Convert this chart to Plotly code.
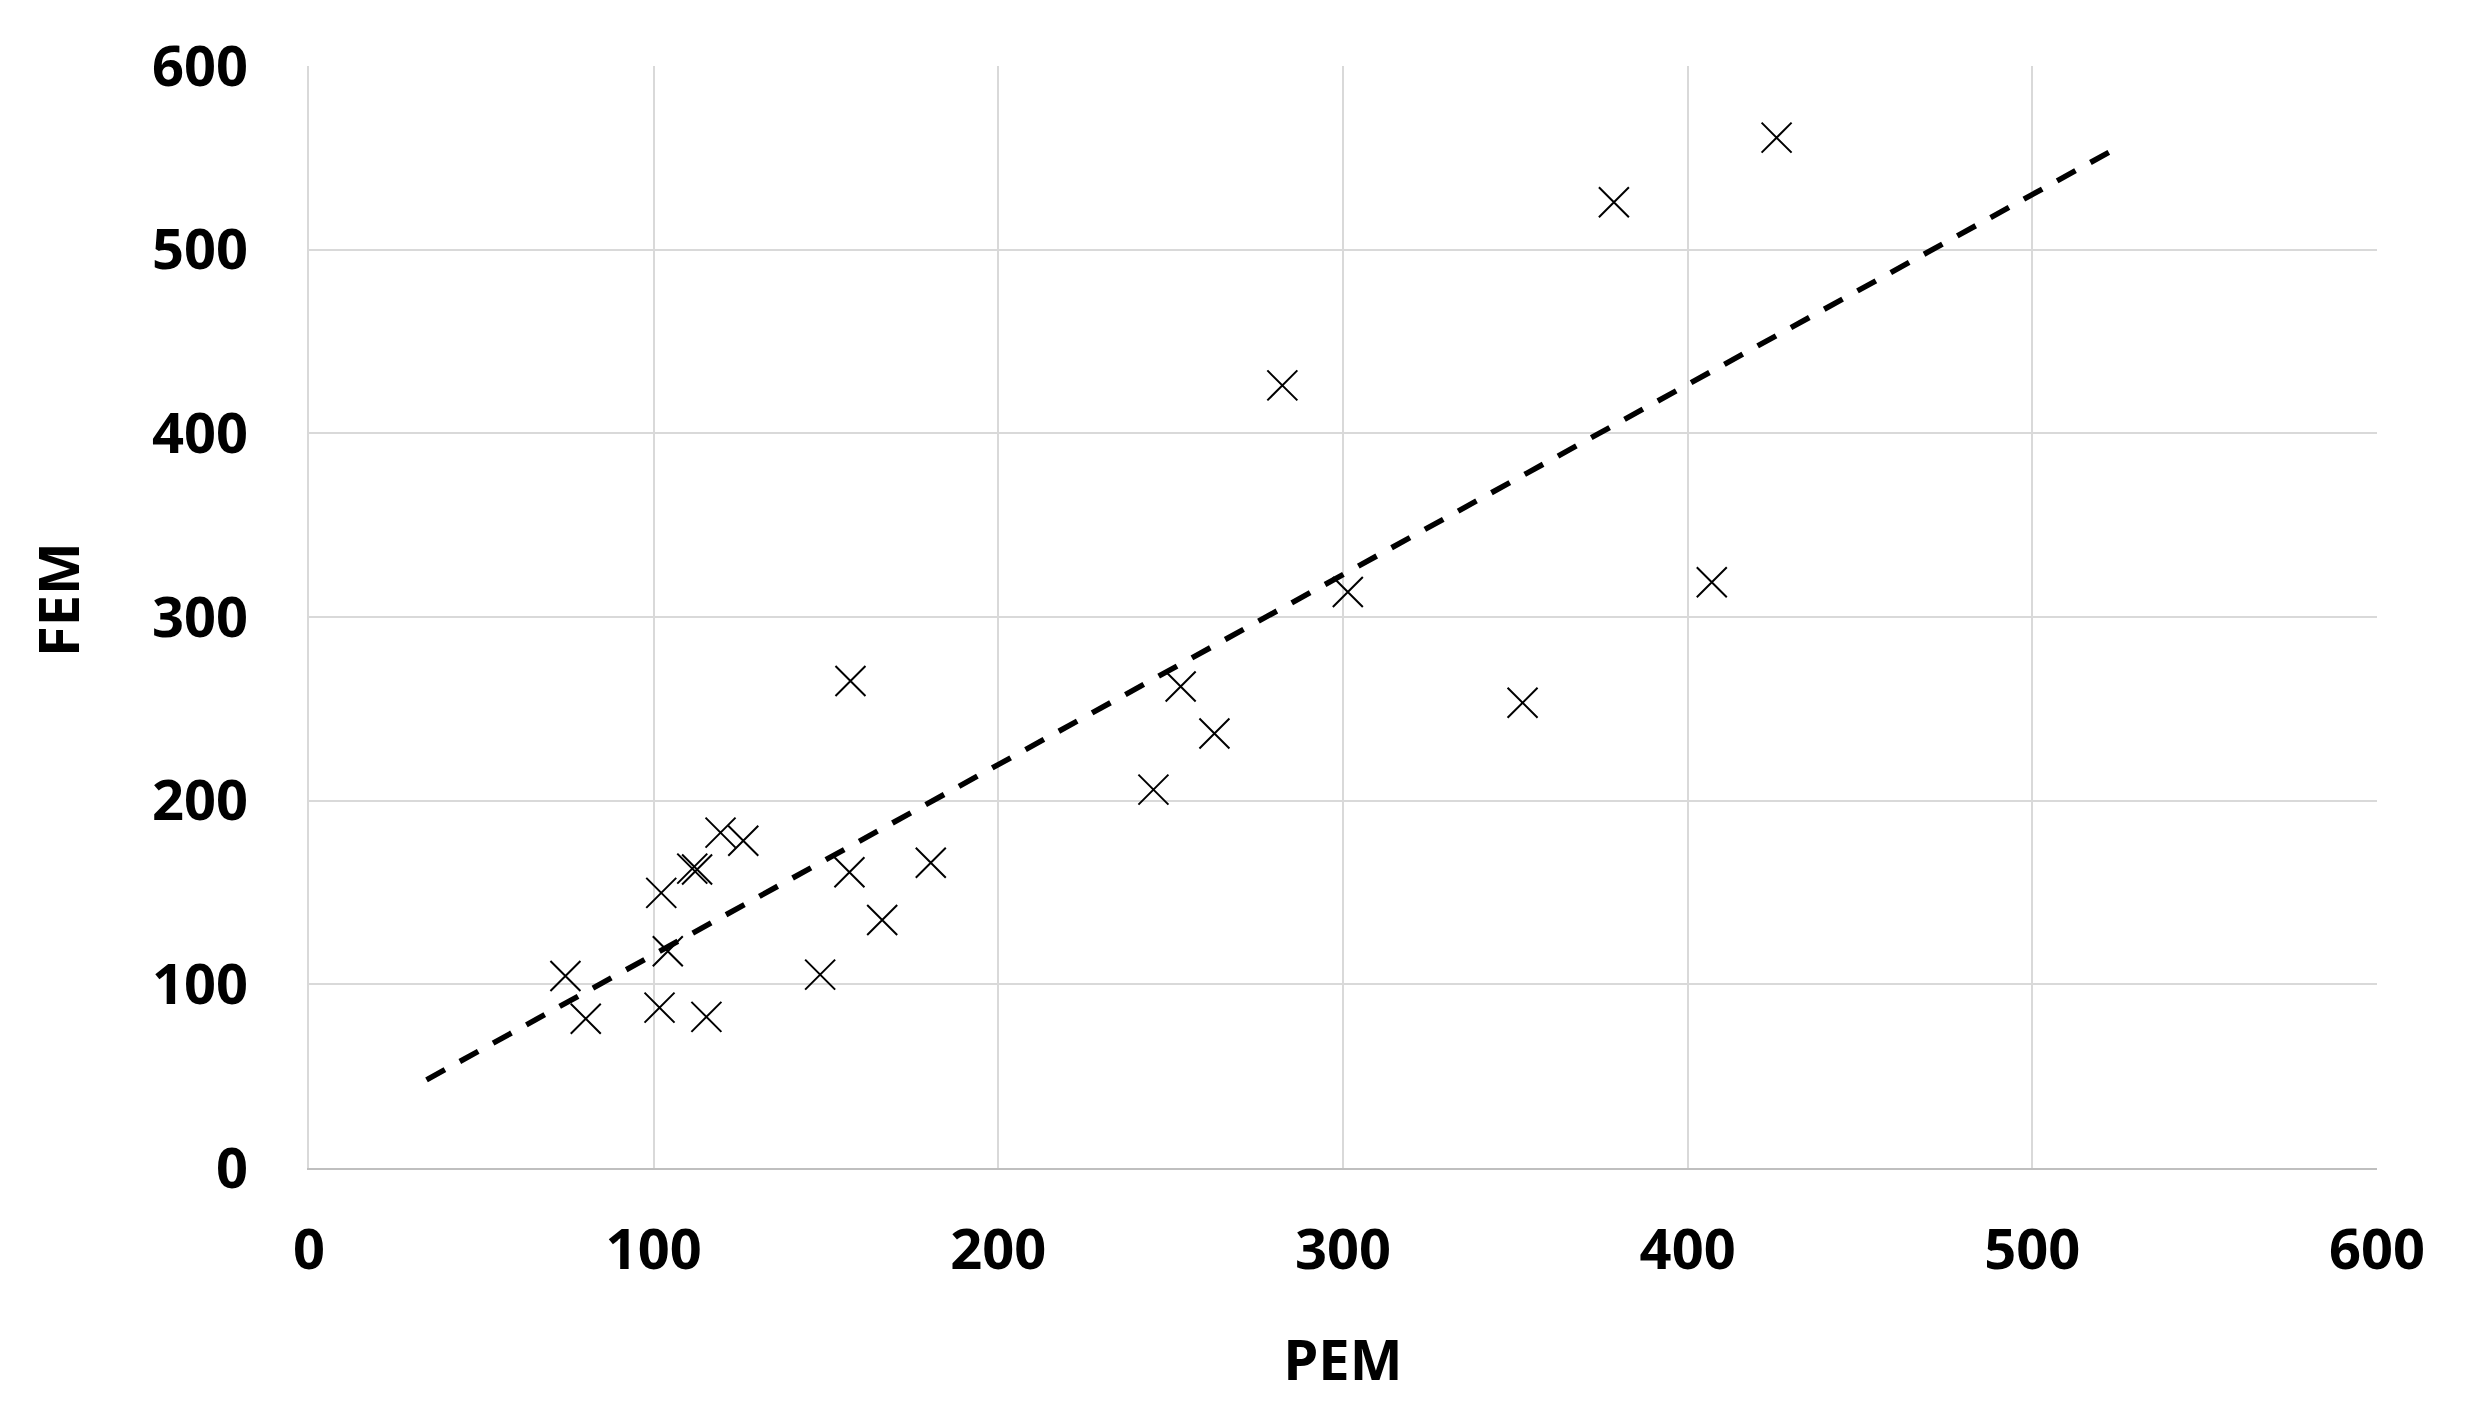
import plotly.graph_objects as go

# Data
pem = [74.4, 80.3, 102.2, 101.7, 104.1, 111.2, 112.6, 119.4, 126.0, 115.3, 148.3, 157.1,
       156.8, 166.3, 180.4, 245.0, 252.9, 262.7, 282.4, 301.4, 352.1, 378.6, 407.0, 425.8]
fem = [104.5, 81.3, 149.8, 87.3, 118.0, 163.0, 162.5, 182.6, 178.2, 82.3, 105.3, 265.2,
       161.0, 135.0, 166.2, 206.0, 262.2, 236.6, 426.1, 313.6, 253.3, 525.8, 318.9, 561.0]

trend_x = [34.1, 522.3]
trend_y = [48.0, 553.1]

tick_vals = [0, 100, 200, 300, 400, 500, 600]
tick_text = ["0", "100", "200", "300", "400", "500", "600"]

x_title = "PEM"
y_title = "FEM"

FONT = "Noto Sans"
fsize = 56
tfont = dict(family=FONT, size=fsize, color="black", weight="bold")

fig = go.Figure()
fig.add_trace(go.Scatter(
    x=trend_x, y=trend_y, mode="lines",
    line=dict(color="black", width=5.5, dash="21px,17px"),
    showlegend=False, hoverinfo="skip"))
fig.add_trace(go.Scatter(
    x=pem, y=fem, mode="markers",
    marker=dict(symbol="x-thin-open", size=30, color="black",
                line=dict(color="black", width=2)),
    showlegend=False))

fig.update_layout(
    width=2450, height=1403,
    margin=dict(l=301, r=81, t=58, b=243),
    paper_bgcolor="white", plot_bgcolor="white",
    font=tfont,
)
fig.update_xaxes(
    range=[0, 600], tickvals=tick_vals, ticktext=tick_text,
    showgrid=True, gridcolor="#d9d9d9", gridwidth=1.5,
    zeroline=False, showline=True, linecolor="#bfbfbf", linewidth=2,
    ticks="outside", ticklen=32, tickcolor="rgba(0,0,0,0)",
    tickfont=tfont,
    title=dict(text=x_title, standoff=57, font=tfont),
)
fig.update_yaxes(
    range=[0, 600], tickvals=tick_vals, ticktext=tick_text,
    showgrid=True, gridcolor="#d9d9d9", gridwidth=1.5,
    zeroline=False, showline=True, linecolor="#d9d9d9", linewidth=1.5,
    ticks="outside", ticklen=48, tickcolor="rgba(0,0,0,0)",
    tickfont=tfont,
)
fig.add_annotation(
    text=y_title, textangle=-90, font=tfont,
    xref="paper", yref="paper", x=0, y=0.5154,
    xanchor="center", yanchor="middle", xshift=-252, showarrow=False)

fig.write_html("out.html")
